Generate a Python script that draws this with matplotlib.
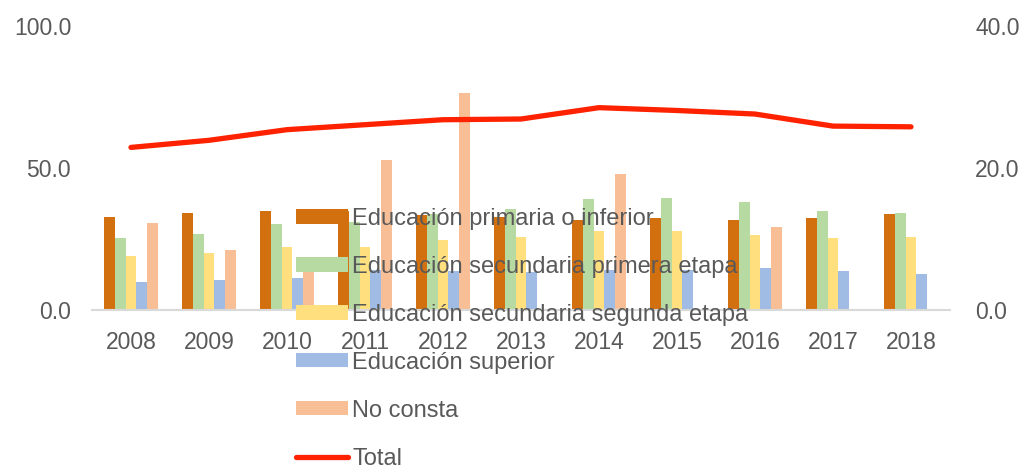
import matplotlib
matplotlib.use("Agg")
import matplotlib.pyplot as plt
import numpy as np

plt.rcParams['font.family'] = ['Liberation Sans', 'DejaVu Sans']

years = ["2008", "2009", "2010", "2011", "2012", "2013", "2014", "2015", "2016", "2017", "2018"]
primaria = [32.9, 34.3, 34.9, 35.0, 33.5, 32.6, 31.8, 32.3, 31.8, 32.4, 33.8]
sec_primera = [25.5, 26.6, 30.2, 30.9, 33.8, 35.4, 39.1, 39.3, 38.0, 34.7, 34.0]
sec_segunda = [19.0, 20.1, 22.3, 22.3, 24.8, 25.6, 27.8, 27.8, 26.4, 25.4, 25.8]
superior = [9.9, 10.6, 11.3, 14.1, 13.7, 13.4, 14.0, 14.1, 14.7, 13.6, 12.7]
no_consta = [30.6, 21.2, 14.0, 52.8, 76.3, np.nan, 47.8, np.nan, 29.1, np.nan, np.nan]
total = [22.9, 23.9, 25.4, 26.1, 26.8, 26.9, 28.5, 28.1, 27.6, 25.9, 25.8]

labels = ["Educación primaria o inferior", "Educación secundaria primera etapa",
          "Educación secundaria segunda etapa", "Educación superior", "No consta"]
colors = ["#D2700F", "#B7D9A2", "#FFDF7E", "#A0BCE4", "#F8BF97"]
series = [primaria, sec_primera, sec_segunda, superior, no_consta]
grey = "#595959"

fig = plt.figure(figsize=(10.22, 4.68), dpi=100)
ax = fig.add_axes([92/1022, 1-310/468, (950-92)/1022, (310-26)/468])
x = np.arange(len(years))
w = 0.14
handles = []
for i, (vals, c, lab) in enumerate(zip(series, colors, labels)):
    b = ax.bar(x + (i-2)*w, vals, width=w, color=c, label=lab, zorder=2)
    handles.append(b)
ax.set_ylim(0, 100)
ax.set_xlim(-0.5, len(years)-0.5)
ax.set_yticks([0, 50, 100])
ax.set_yticklabels(["0.0", "50.0", "100.0"])
ax.set_xticks(x)
ax.set_xticklabels(years)
for s in ["top", "left", "right"]:
    ax.spines[s].set_visible(False)
ax.spines["bottom"].set_color("#D9D9D9")
ax.spines["bottom"].set_linewidth(1.5)
ax.tick_params(axis='y', length=0, pad=15, labelsize=16.5, labelcolor=grey)
ax.tick_params(axis='x', length=0, pad=15, labelsize=16.5, labelcolor=grey)

ax2 = ax.twinx()
ln, = ax2.plot(x, total, color="#FF2200", linewidth=3.8, solid_capstyle='round',
               solid_joinstyle='round', label="Total", zorder=3)
ax2.set_ylim(0, 40)
ax2.set_yticks([0, 20, 40])
ax2.set_yticklabels(["0.0", "20.0", "40.0"])
for s in ["top", "left", "right", "bottom"]:
    ax2.spines[s].set_visible(False)
ax2.tick_params(axis='y', length=0, pad=18, labelsize=16.5, labelcolor=grey)

leg = fig.legend(handles + [ln], labels + ["Total"], loc='upper left',
                 bbox_to_anchor=(284/1022, 1-196/468), frameon=False,
                 fontsize=17, labelcolor=grey, handlelength=2.2, handleheight=0.55,
                 handletextpad=0.2, labelspacing=1.1, borderpad=0)

fig.savefig("out.png", dpi=100)
